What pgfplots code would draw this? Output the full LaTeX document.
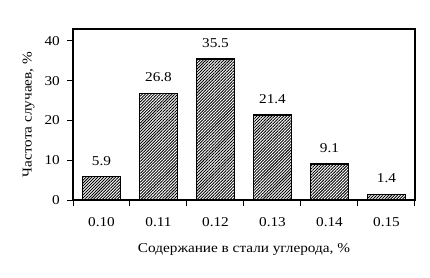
\documentclass[border=0pt]{standalone}
\usepackage{fontspec}
\setmainfont{Liberation Serif}[FakeStretch=1.13]
\usepackage{pgfplots}
\pgfplotsset{compat=1.18}
\usetikzlibrary{patterns.meta}
\begin{document}
\fontsize{13.5bp}{15bp}\selectfont
\begin{tikzpicture}[x=1bp,y=1bp]
\path (0,0) rectangle (430,278);
\begin{axis}[
  at={(73bp,78bp)}, anchor=south west,
  scale only axis, width=342bp, height=171bp,
  xmin=-0.5, xmax=5.5, ymin=0, ymax=43,
  ytick={0,10,20,30,40},
  xtick={-0.5,0.5,1.5,2.5,3.5,4.5,5.5},
  x tick label as interval,
  xticklabels={0.10,0.11,0.12,0.13,0.14,0.15},
  tick align=outside,
  major tick length=6bp,
  tick style={black, line width=1bp},
  xtick pos=bottom, ytick pos=left,
  axis line style={black, line width=2bp},
  /pgf/number format/assume math mode=true,
  tick label style={font=\fontsize{13.5bp}{15bp}\selectfont},
  xticklabel style={yshift=-7bp},
  yticklabel style={xshift=-2.5bp},
  xlabel={Содержание в стали углерода, \%},
  ylabel={Частота случаев, \%},
  label style={font=\fontsize{13.5bp}{15bp}\selectfont},
  xlabel style={at={(axis description cs:0.5,-0.29)}, anchor=center},
  ylabel style={at={(axis description cs:-0.13,0.5)}, anchor=center},
  ybar, bar width=0.665,
  nodes near coords,
  nodes near coords style={anchor=south, yshift=6bp, font=\fontsize{13.5bp}{15bp}\selectfont,
    /pgf/number format/fixed, /pgf/number format/precision=1, /pgf/number format/assume math mode=true},
]
\addplot[draw=black, line width=1.6bp,
  postaction={pattern={Lines[angle=45, distance=2.1bp, line width=0.9bp]}, pattern color=black}]
  coordinates {(0,5.9) (1,26.8) (2,35.5) (3,21.4) (4,9.1) (5,1.4)};
\end{axis}
\end{tikzpicture}
\end{document}
